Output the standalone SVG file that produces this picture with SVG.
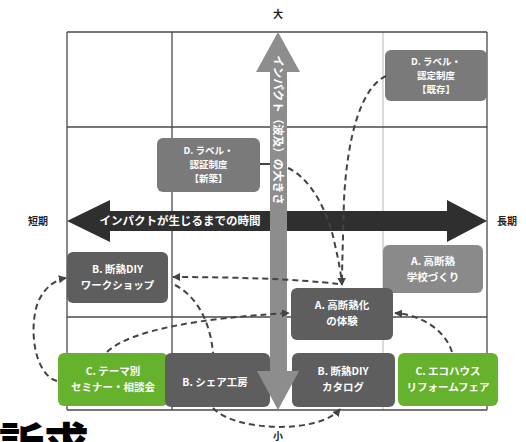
<svg xmlns="http://www.w3.org/2000/svg" width="526" height="442" viewBox="0 0 526 442">
<defs>
<style>
.grid{stroke:#4a4a4a;stroke-width:1.3;fill:none}
.gridl{stroke:#c8c8c8;stroke-width:1.3;fill:none}
.box{stroke:none}
.dk{fill:#5e5e5e}
.md{fill:#7a7a7a}
.lt{fill:#8a8a8a}
.gr{fill:#67b22c}
.t{font-family:"Noto Sans CJK JP","Noto Sans",sans-serif;font-size:10.5px;fill:#fff;text-anchor:middle;font-weight:bold}
.ts{font-family:"Noto Sans CJK JP","Noto Sans",sans-serif;font-size:9.5px;fill:#fff;text-anchor:middle;font-weight:bold}
.lab{font-family:"Noto Sans CJK JP","Noto Sans",sans-serif;font-size:10px;fill:#222;text-anchor:middle;font-weight:bold}
.con{fill:none;stroke:#444;stroke-width:2;stroke-dasharray:6 4}
</style>
<marker id="ah" viewBox="0 0 10 10" refX="9" refY="5" markerWidth="4" markerHeight="4" orient="auto" markerUnits="strokeWidth">
<path d="M0,0 L10,5 L0,10 z" fill="#444"/>
</marker>
</defs>
<rect width="526" height="442" fill="#fff"/>
<g id="grid">
<line class="gridl" x1="383" y1="32" x2="383" y2="410"/>
<line class="grid" x1="67" y1="32" x2="487" y2="32"/>
<line class="grid" x1="67" y1="127" x2="487" y2="127"/>
<line class="grid" x1="67" y1="317" x2="487" y2="317"/>
<line class="grid" x1="67" y1="410" x2="487" y2="410"/>
<line class="grid" x1="67" y1="32" x2="67" y2="410"/>
<line class="grid" x1="172" y1="32" x2="172" y2="410"/>
<line class="grid" x1="487" y1="32" x2="487" y2="410"/>
</g>
<g id="axis-labels">
<text class="lab" x="278" y="18">大</text>
<text class="lab" x="278" y="440">小</text>
<text class="lab" x="38" y="225">短期</text>
<text class="lab" x="507" y="225">長期</text>
</g>
<g id="time-arrow">
<polygon points="67,221 110,200 110,211 447,211 447,200 487,221 447,242 447,231 110,231 110,242" fill="#2f2f2f"/>
<text x="180" y="225" font-family="'Noto Sans CJK JP','Noto Sans',sans-serif" font-size="11.5" font-weight="bold" fill="#fff" text-anchor="middle">インパクトが生じるまでの時間</text>
</g>
<g id="node-d-kizon">
<rect class="box md" x="385" y="50" width="102" height="51" rx="6"/>
<text class="ts" x="436" y="65">D. ラベル・</text>
<text class="ts" x="436" y="79">認定制度</text>
<text class="ts" x="436" y="93">【既存】</text>
</g>
<g id="node-d-shinchiku">
<rect class="box md" x="157" y="138" width="103" height="54" rx="6"/>
<text class="ts" x="208.5" y="154">D. ラベル・</text>
<text class="ts" x="208.5" y="168">認証制度</text>
<text class="ts" x="208.5" y="182">【新築】</text>
</g>
<g id="node-b-workshop">
<rect class="box dk" x="67" y="252" width="101" height="51" rx="6"/>
<text class="t" x="117.5" y="273">B. 断熱DIY</text>
<text class="t" x="117.5" y="289">ワークショップ</text>
</g>
<g id="node-a-school">
<rect class="box lt" x="383" y="245" width="100" height="48" rx="6"/>
<text class="t" x="433" y="265">A. 高断熱</text>
<text class="t" x="433" y="281">学校づくり</text>
</g>
<g id="node-a-taiken">
<rect class="box dk" x="291" y="288" width="102" height="52" rx="6"/>
<text class="t" x="342" y="309">A. 高断熱化</text>
<text class="t" x="342" y="325">の体験</text>
</g>
<g id="node-c-seminar">
<rect class="box gr" x="58" y="353" width="110" height="53" rx="6"/>
<text class="t" x="113" y="375">C. テーマ別</text>
<text class="t" x="113" y="391">セミナー・相談会</text>
</g>
<g id="node-b-share">
<rect class="box dk" x="165" y="353" width="105" height="54" rx="6"/>
<text class="t" x="215" y="386">B. シェア工房</text>
</g>
<g id="node-b-catalog">
<rect class="box dk" x="292" y="353" width="103" height="54" rx="6"/>
<text class="t" x="343" y="375">B. 断熱DIY</text>
<text class="t" x="343" y="391">カタログ</text>
</g>
<g id="node-c-ecohouse">
<rect class="box gr" x="398" y="353" width="100" height="53" rx="6"/>
<text class="t" x="448" y="375">C. エコハウス</text>
<text class="t" x="448" y="391">リフォームフェア</text>
</g>
<g id="impact-arrow">
<polygon points="278,32 300,72 287,72 287,371 299,371 278,410 257,371 270,371 270,72 256,72" fill="#8d8d8d"/>
<text transform="translate(278.5,130) rotate(90)" font-family="'Noto Sans CJK JP','Noto Sans',sans-serif" font-size="11.5" font-weight="bold" fill="#fff" text-anchor="middle" dominant-baseline="central">インパクト（波及）の大きさ</text>
</g>
<g id="connectors">
<path class="con" d="M386,76 C360,88 347,140 344,200 C343,240 342,265 342,285" marker-end="url(#ah)"/>
<line x1="260" y1="164" x2="270" y2="164" stroke="#444" stroke-width="2"/>
<path class="con" d="M288,168 C310,178 328,210 335,245 C339,262 341,274 342,285" marker-end="url(#ah)"/>
<path class="con" d="M338,284 C300,279 230,277 173,277" marker-end="url(#ah)"/>
<path class="con" d="M57,381 C35,375 28,330 38,302 C45,287 55,280 66,278" marker-end="url(#ah)"/>
<path class="con" d="M175,285 C196,296 210,320 213,353"/>
<path class="con" d="M107,352 C130,330 200,318 289,313" marker-end="url(#ah)"/>
<path class="con" d="M452,352 C445,330 422,315 395,313" marker-end="url(#ah)"/>
<path class="con" d="M213,408 C235,432 320,434 340,409" marker-end="url(#ah)"/>
</g>
<text x="-1" y="461" font-family="'Noto Sans CJK JP','Noto Sans',sans-serif" font-size="45" font-weight="900" fill="#000">訴求</text>
</svg>
